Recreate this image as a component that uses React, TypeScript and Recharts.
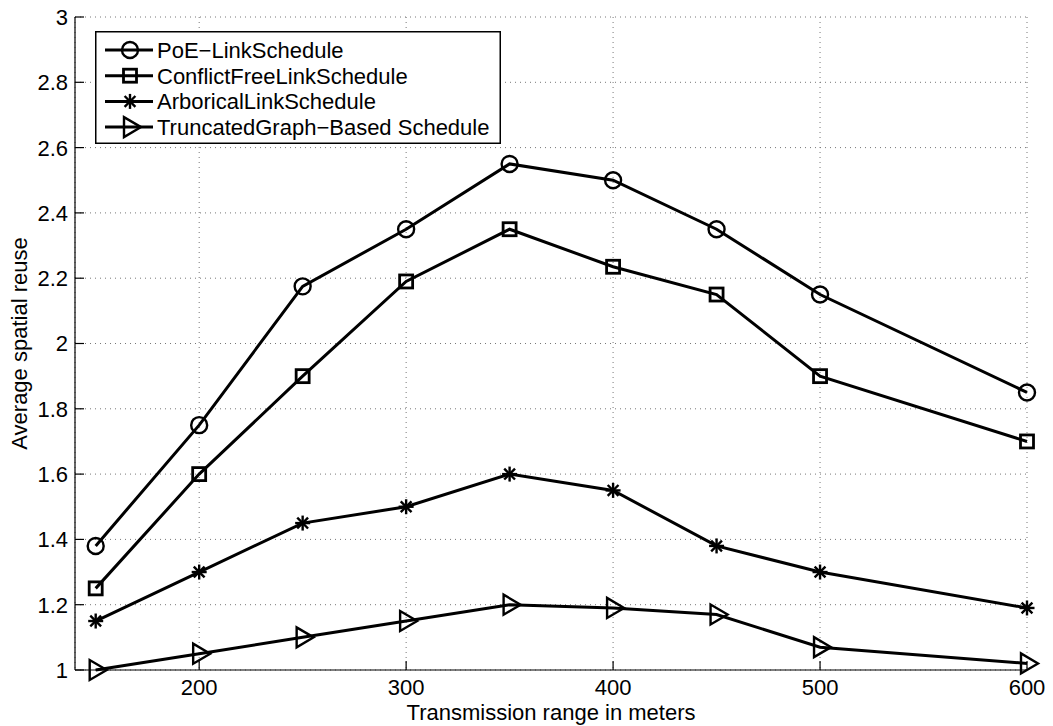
import React from 'react';
import { LineChart, Line, XAxis, YAxis, CartesianGrid, Legend } from 'recharts';

const xValues = [150, 200, 250, 300, 350, 400, 450, 500, 600];
const poeLinkSchedule = [1.38, 1.75, 2.175, 2.35, 2.55, 2.5, 2.35, 2.15, 1.85];
const conflictFreeLinkSchedule = [1.25, 1.6, 1.9, 2.19, 2.35, 2.235, 2.15, 1.9, 1.7];
const arboricalLinkSchedule = [1.15, 1.3, 1.45, 1.5, 1.6, 1.55, 1.38, 1.3, 1.19];
const truncatedGraphSchedule = [1.0, 1.05, 1.1, 1.15, 1.2, 1.19, 1.17, 1.07, 1.02];

const xTicks = [200, 300, 400, 500, 600];
const yTicks = [1, 1.2, 1.4, 1.6, 1.8, 2, 2.2, 2.4, 2.6, 2.8, 3];
const yTickLabels = ['1', '1.2', '1.4', '1.6', '1.8', '2', '2.2', '2.4', '2.6', '2.8', '3'];

const seriesNames = [
  'PoE\u2212LinkSchedule',
  'ConflictFreeLinkSchedule',
  'ArboricalLinkSchedule',
  'TruncatedGraph\u2212Based Schedule',
];
const seriesKeys = ['poe', 'conflict', 'arborical', 'truncated'];
const seriesMarkers = ['circle', 'square', 'star', 'triangle'];

const xTitle = 'Transmission range in meters';
const yTitle = 'Average spatial reuse';

const data = xValues.map((x, i) => ({
  x,
  poe: poeLinkSchedule[i],
  conflict: conflictFreeLinkSchedule[i],
  arborical: arboricalLinkSchedule[i],
  truncated: truncatedGraphSchedule[i],
}));

const FONT = '"Liberation Sans", Arial, Helvetica, sans-serif';
const FS = 22;

function MarkerShape({ kind, cx, cy }: { kind: string; cx: number; cy: number }) {
  if (cx == null || cy == null) return null;
  const sw = 2.4;
  switch (kind) {
    case 'circle':
      return <circle cx={cx} cy={cy} r={8} fill="none" stroke="#000" strokeWidth={sw} />;
    case 'square':
      return <rect x={cx - 6.5} y={cy - 6.5} width={13} height={13} fill="none" stroke="#000" strokeWidth={sw + 0.4} />;
    case 'star': {
      const r = 7.5;
      const d = r * 0.72;
      return (
        <g stroke="#000" strokeWidth={2.4}>
          <line x1={cx - r} y1={cy} x2={cx + r} y2={cy} />
          <line x1={cx} y1={cy - r} x2={cx} y2={cy + r} />
          <line x1={cx - d} y1={cy - d} x2={cx + d} y2={cy + d} />
          <line x1={cx - d} y1={cy + d} x2={cx + d} y2={cy - d} />
        </g>
      );
    }
    case 'triangle':
      return (
        <polygon
          points={`${cx - 6},${cy - 10} ${cx - 6},${cy + 10} ${cx + 11},${cy}`}
          fill="none"
          stroke="#000"
          strokeWidth={sw}
          strokeLinejoin="miter"
        />
      );
    default:
      return null;
  }
}

const makeDot = (kind: string) => (props: any) => (
  <MarkerShape key={`${kind}-${props.index}`} kind={kind} cx={props.cx} cy={props.cy} />
);

const XTick = (props: any) => {
  const { x, y, payload } = props;
  return (
    <g>
      <line x1={x} y1={y} x2={x} y2={y - 9} stroke="#000" strokeWidth={1.2} />
      <text x={x} y={y + 25} textAnchor="middle" fontSize={FS} fontFamily={FONT} fill="#000">
        {payload.value}
      </text>
    </g>
  );
};

const YTick = (props: any) => {
  const { x, y, payload } = props;
  const idx = yTicks.indexOf(payload.value);
  const label = idx >= 0 ? yTickLabels[idx] : String(payload.value);
  return (
    <g>
      <line x1={x} y1={y} x2={x + 9} y2={y} stroke="#000" strokeWidth={1.2} />
      <text x={x - 7} y={y} dy="0.36em" textAnchor="end" fontSize={FS} fontFamily={FONT} fill="#000">
        {label}
      </text>
    </g>
  );
};

const XLabel = (props: any) => {
  const vb = props.viewBox || {};
  return (
    <text x={vb.x + vb.width / 2} y={vb.y + 50} textAnchor="middle" fontSize={FS} fontFamily={FONT} fill="#000">
      {xTitle}
    </text>
  );
};

const YLabel = (props: any) => {
  const vb = props.viewBox || {};
  const cx = 27;
  const cy = vb.y + vb.height / 2;
  return (
    <text
      x={cx}
      y={cy}
      transform={`rotate(-90, ${cx}, ${cy})`}
      textAnchor="middle"
      fontSize={FS}
      fontFamily={FONT}
      fill="#000"
    >
      {yTitle}
    </text>
  );
};

const LegendBox = () => {
  const w = 406;
  const h = 113;
  return (
    <svg width={w} height={h} style={{ display: 'block' }}>
      <rect x={0.75} y={0.75} width={w - 1.5} height={h - 1.5} fill="#fff" stroke="#000" strokeWidth={1.5} />
      {seriesNames.map((name, i) => {
        const cy = 19 + i * 25.7;
        return (
          <g key={name}>
            <line x1={10} y1={cy} x2={58} y2={cy} stroke="#000" strokeWidth={3} />
            <MarkerShape kind={seriesMarkers[i]} cx={35} cy={cy} />
            <text x={62} y={cy} dy="0.36em" fontSize={FS} fontFamily={FONT} fill="#000">
              {name}
            </text>
          </g>
        );
      })}
    </svg>
  );
};

export default function App() {
  return (
    <div style={{ position: 'absolute', left: 0, top: 0, width: 1053, height: 726, background: '#fff' }}>
      <LineChart
        width={1053}
        height={726}
        data={data}
        margin={{ top: 17, right: 26, bottom: 0, left: 0 }}
      >
        <CartesianGrid stroke="#777" strokeDasharray="1 4" strokeWidth={1} />
        <XAxis
          dataKey="x"
          type="number"
          domain={[140, 600]}
          ticks={xTicks}
          height={56}
          tickSize={0}
          tickMargin={0}
          tickLine={false}
          axisLine={{ stroke: '#000', strokeWidth: 1.2 }}
          tick={<XTick />}
          interval={0}
          allowDecimals
          label={<XLabel />}
        />
        <YAxis
          type="number"
          domain={[1, 3]}
          ticks={yTicks}
          width={75}
          tickSize={0}
          tickMargin={0}
          tickLine={false}
          axisLine={{ stroke: '#000', strokeWidth: 1.2 }}
          tick={<YTick />}
          interval={0}
          label={<YLabel />}
        />
        <Legend
          layout="vertical"
          align="center"
          verticalAlign="middle"
          wrapperStyle={{ position: 'absolute', left: 95, top: 31, width: 406, height: 113, right: 'auto', bottom: 'auto' }}
          content={() => <LegendBox />}
        />
        {seriesKeys.map((k, i) => (
          <Line
            key={k}
            dataKey={k}
            name={seriesNames[i]}
            type="linear"
            stroke="#000"
            strokeWidth={3}
            dot={makeDot(seriesMarkers[i])}
            activeDot={false}
            isAnimationActive={false}
          />
        ))}
      </LineChart>
    </div>
  );
}
